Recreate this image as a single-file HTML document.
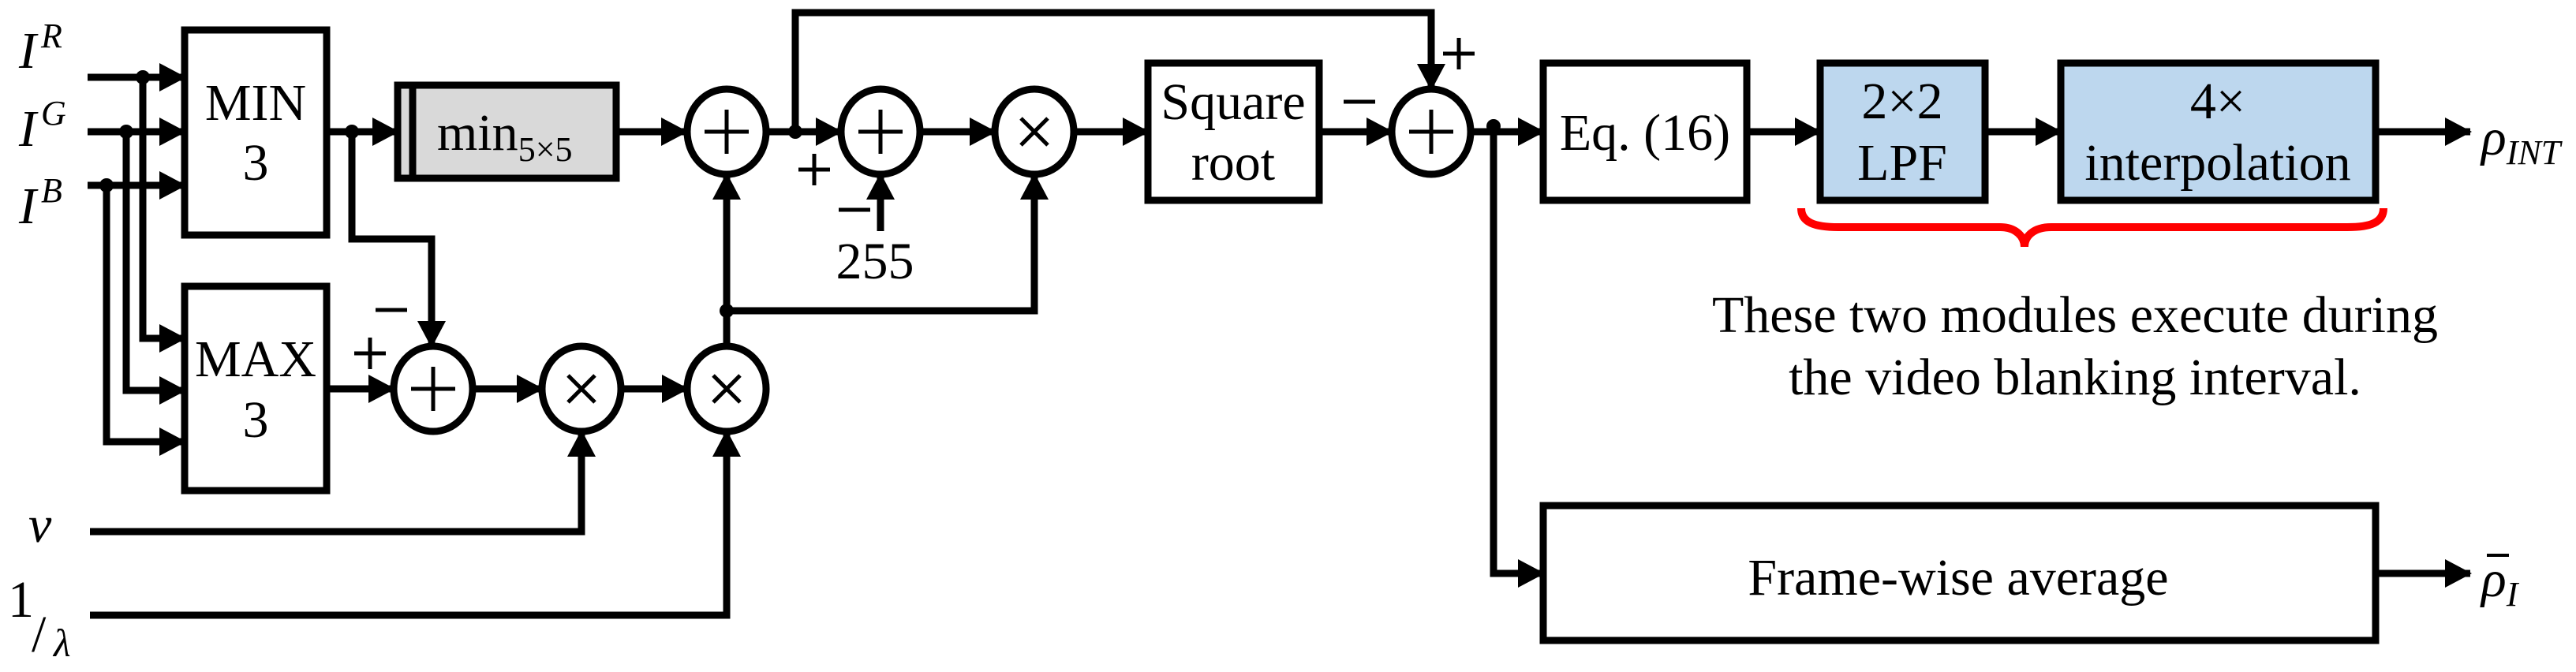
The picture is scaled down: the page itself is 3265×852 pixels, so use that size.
<!DOCTYPE html>
<html><head><meta charset="utf-8"><style>
html,body{margin:0;padding:0;background:#fff;}
svg{display:block;}
text{font-family:"Liberation Serif","DejaVu Serif",serif;fill:#000;}
</style></head><body>
<svg width="3265" height="852" viewBox="0 0 3265 852" xmlns="http://www.w3.org/2000/svg" font-family="Liberation Serif, serif">
<defs>
<marker id="a" markerUnits="userSpaceOnUse" markerWidth="34" markerHeight="38" refX="32" refY="18" orient="auto">
<path d="M0,0 L34,18 L0,36 z" fill="#000"/>
</marker>
</defs>
<g stroke="#000" stroke-width="9" fill="none">
<line x1="111" y1="98" x2="234" y2="98" marker-end="url(#a)"/>
<line x1="111" y1="167" x2="234" y2="167" marker-end="url(#a)"/>
<line x1="111" y1="235" x2="234" y2="235" marker-end="url(#a)"/>
<polyline points="181,98 181,429 234,429" marker-end="url(#a)"/>
<polyline points="160,167 160,495 234,495" marker-end="url(#a)"/>
<polyline points="135,235 135,560 234,560" marker-end="url(#a)"/>
<rect x="234" y="38" width="180" height="260"/>
<rect x="234" y="363" width="180" height="259"/>
<rect x="504" y="108" width="277" height="118" fill="#d9d9d9"/>
<line x1="523" y1="108" x2="523" y2="226"/>
<rect x="1455" y="80" width="217" height="174"/>
<rect x="1956" y="80" width="258" height="174"/>
<rect x="2307" y="80" width="209" height="174" fill="#bdd7ee"/>
<rect x="2612" y="80" width="399" height="174" fill="#bdd7ee"/>
<rect x="1956" y="641" width="1055" height="171"/>
<line x1="414" y1="167" x2="504" y2="167" marker-end="url(#a)"/>
<polyline points="446,167 446,303 547,303 547,439" marker-end="url(#a)"/>
<line x1="781" y1="167" x2="870" y2="167" marker-end="url(#a)"/>
<ellipse cx="921" cy="167" rx="50" ry="54"/>
<ellipse cx="1116" cy="167" rx="50" ry="54"/>
<ellipse cx="1311" cy="167" rx="50" ry="54"/>
<ellipse cx="1814" cy="167" rx="50" ry="54"/>
<ellipse cx="549" cy="493" rx="50" ry="54"/>
<ellipse cx="737" cy="493" rx="50" ry="54"/>
<ellipse cx="921" cy="493" rx="50" ry="54"/>
</g>
<g stroke="#000" stroke-width="5">
<path d="M893,167h56M921,139v56"/>
<path d="M1088,167h56M1116,139v56"/>
<path d="M1294,150l34,34M1328,150l-34,34"/>
<path d="M1786,167h56M1814,139v56"/>
<path d="M521,493h56M549,465v56"/>
<path d="M720,476l34,34M754,476l-34,34"/>
<path d="M904,476l34,34M938,476l-34,34"/>
<!-- +/- signs -->
<path d="M476,393h40"/>
<path d="M449,448h40M469,428v40"/>
<path d="M1012,215h40M1032,195v40"/>
<path d="M1063,266h40"/>
<path d="M1829,68h40M1849,48v40"/>
<path d="M1703,129h40"/>
</g>
<g stroke="#000" stroke-width="9" fill="none">
<line x1="971" y1="167" x2="1066" y2="167" marker-end="url(#a)"/>
<polyline points="1008,167 1008,16 1814,16 1814,113" marker-end="url(#a)"/>
<line x1="1166" y1="167" x2="1261" y2="167" marker-end="url(#a)"/>
<line x1="1116" y1="293" x2="1116" y2="221" marker-end="url(#a)"/>
<line x1="1361" y1="167" x2="1455" y2="167" marker-end="url(#a)"/>
<line x1="1672" y1="167" x2="1764" y2="167" marker-end="url(#a)"/>
<line x1="1864" y1="167" x2="1956" y2="167" marker-end="url(#a)"/>
<polyline points="1893,167 1893,727 1956,727" marker-end="url(#a)"/>
<line x1="2214" y1="167" x2="2307" y2="167" marker-end="url(#a)"/>
<line x1="2516" y1="167" x2="2612" y2="167" marker-end="url(#a)"/>
<line x1="3011" y1="167" x2="3131" y2="167" marker-end="url(#a)"/>
<line x1="3011" y1="727" x2="3131" y2="727" marker-end="url(#a)"/>
<line x1="414" y1="493" x2="499" y2="493" marker-end="url(#a)"/>
<line x1="599" y1="493" x2="687" y2="493" marker-end="url(#a)"/>
<line x1="787" y1="493" x2="871" y2="493" marker-end="url(#a)"/>
<line x1="921" y1="439" x2="921" y2="221" marker-end="url(#a)"/>
<polyline points="921,394 1311,394 1311,221" marker-end="url(#a)"/>
<polyline points="114,674 737,674 737,547" marker-end="url(#a)"/>
<polyline points="114,780 921,780 921,547" marker-end="url(#a)"/>
</g>
<g fill="#000">
<circle cx="181" cy="98" r="9"/><circle cx="160" cy="167" r="9"/><circle cx="135" cy="235" r="9"/>
<circle cx="446" cy="167" r="9"/><circle cx="1008" cy="167" r="9"/><circle cx="921" cy="394" r="9"/>
<circle cx="1893" cy="160" r="9"/>
</g>
<path d="M2283,264 C2283,282 2300,288 2330,288 L2535,288 C2555,288 2566,300 2566,313 C2566,300 2577,288 2600,288 L2975,288 C3005,288 3021,282 3021,264" stroke="#ff0000" stroke-width="10" fill="none"/>
<g font-size="66" text-anchor="middle" font-family="Liberation Serif, serif">
<text x="324" y="152">MIN</text><text x="324" y="228">3</text>
<text x="324" y="477">MAX</text><text x="324" y="554">3</text>
<text x="1563" y="151">Square</text><text x="1563" y="228">root</text>
<text x="2085" y="190">Eq. (16)</text>
<text x="2411" y="150">2×2</text><text x="2411" y="228">LPF</text>
<text x="2811" y="150">4×</text><text x="2811" y="228">interpolation</text>
<text x="2482" y="754">Frame-wise average</text>
<text x="2630" y="421">These two modules execute during</text>
<text x="2630" y="500">the video blanking interval.</text>
<text x="1109" y="353">255</text>
</g>
<text x="554" y="190" font-size="66" font-family="Liberation Serif, serif">min<tspan font-size="44" dy="14">5×5</tspan></text>
<g font-size="66" font-style="italic" font-family="Liberation Serif, serif">
<text x="24" y="86">I</text><text x="52" y="60" font-size="44">R</text>
<text x="24" y="185">I</text><text x="52" y="158" font-size="44">G</text>
<text x="24" y="283">I</text><text x="52" y="256" font-size="44">B</text>
<text x="36" y="687">v</text>
<text x="3145" y="196">ρ<tspan font-size="44" dy="12">INT</tspan></text>
<text x="3145" y="756">ρ<tspan font-size="44" dy="12">I</tspan></text>
</g>
<line x1="3152" y1="704" x2="3180" y2="704" stroke="#000" stroke-width="4"/>
<text x="10" y="782" font-size="66" font-family="Liberation Serif, serif">1</text>
<text x="40" y="826" font-size="66" font-family="Liberation Serif, serif">/</text>
<text x="68" y="832" font-size="50" font-style="italic" font-family="Liberation Serif, serif">λ</text>
</svg>
</body></html>
